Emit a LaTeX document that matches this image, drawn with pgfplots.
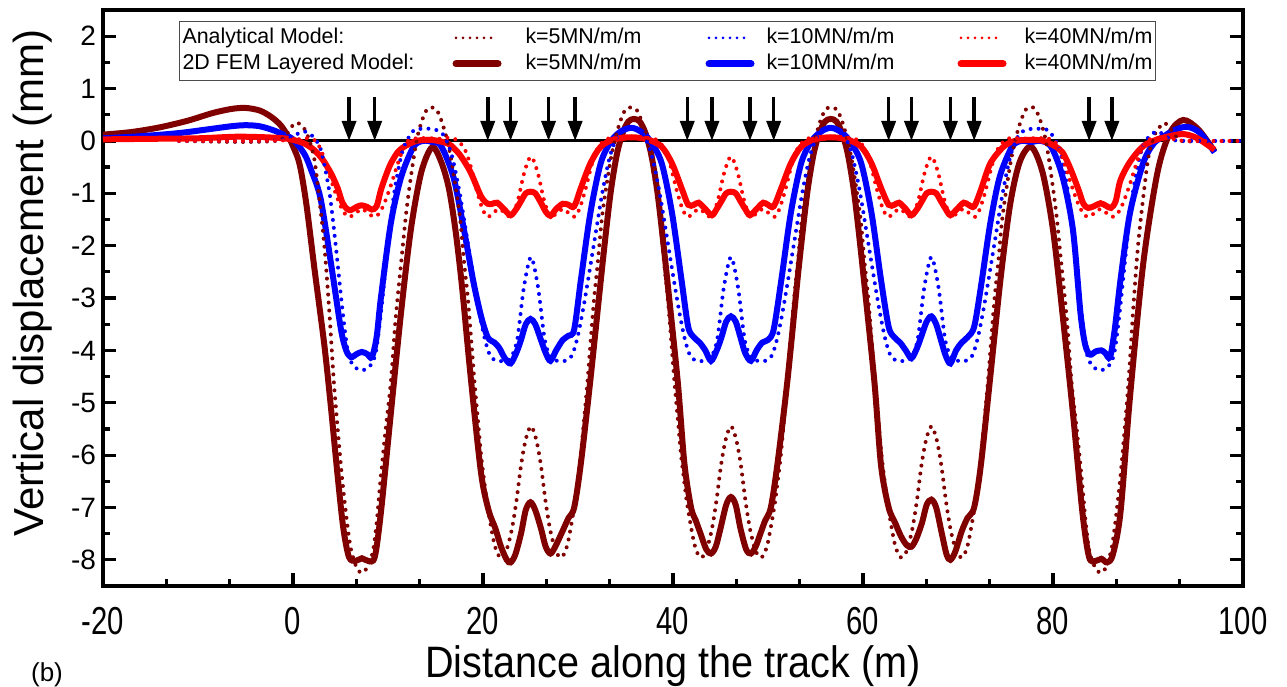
\documentclass[border=0pt]{standalone}
\usepackage{fontspec}
\setmainfont{Liberation Sans}
\newfontfamily\narrowfont[FakeStretch=0.75]{Liberation Sans}
\newfontfamily\xlabfont[FakeStretch=0.9]{Liberation Sans}
\usepackage{pgfplots}
\pgfplotsset{compat=1.18}
\usetikzlibrary{arrows.meta}
\definecolor{dred}{RGB}{128,0,0}
\tikzset{
  femline/.style={line width=3pt},
  anline/.style={line width=2pt, line cap=round, dash pattern=on 0pt off 4pt},
}
\begin{document}
\begin{tikzpicture}
\begin{axis}[
  name=ax,
  scale only axis,
  width=570pt, height=288pt,
  xmin=-20, xmax=100, ymin=-8.5, ymax=2.5,
  xtick={-20,0,...,100}, ytick={-8,-7,...,2},
  minor x tick num=2, minor y tick num=1,
  xtick pos=left, ytick pos=both,
  tick align=inside,
  major tick length=6.5pt, minor tick length=3.5pt,
  tick style={black, line width=1.6pt},
  axis line style={line width=2pt},
  /pgf/number format/assume math mode=true,
  xticklabel style={font=\narrowfont\fontsize{19.5}{20}\selectfont, yshift=-9.5pt, inner sep=1pt},
  yticklabel style={font=\fontsize{14}{16}\selectfont},
  xlabel={Distance along the track (m)},
  ylabel={Vertical displacement (mm)},
  xlabel style={font=\xlabfont\fontsize{22}{24}\selectfont, at={(axis description cs:0.5,-0.139)}, anchor=center, inner sep=0pt},
  ylabel style={font=\fontsize{21}{24}\selectfont, at={(axis description cs:-0.0614,0.526)}, anchor=center},
  legend columns=4,
  legend cell align=left,
  legend image code/.code={\draw[#1] (0pt,0pt) -- (21pt,0pt);},
  legend style={at={(axis description cs:0.0667,0.981)}, anchor=north west,
    draw=black!70, line width=0.5pt, inner xsep=1.5pt, inner ysep=3pt,
    font=\fontsize{10.7}{13}\selectfont, column sep=0pt, row sep=2.5pt,
    nodes={inner sep=0pt, text height=8pt, text depth=2.5pt}},
]
\addlegendimage{empty legend}\addlegendentry{\makebox[135pt][l]{Analytical Model:}}
\addlegendimage{dred, line width=1.5pt, line cap=round, dash pattern=on 0pt off 3.5pt}\addlegendentry{\makebox[102pt][l]{\hspace{12pt}k=5MN/m/m}}
\addlegendimage{blue, line width=1.5pt, line cap=round, dash pattern=on 0pt off 3.5pt}\addlegendentry{\makebox[101.5pt][l]{\hspace{6pt}k=10MN/m/m}}
\addlegendimage{red, line width=1.5pt, line cap=round, dash pattern=on 0pt off 3.5pt}\addlegendentry{\hspace{9pt}k=40MN/m/m}
\addlegendimage{empty legend}\addlegendentry{\makebox[135pt][l]{2D FEM Layered Model:}}
\addlegendimage{dred, line width=3.5pt, line cap=round}\addlegendentry{\makebox[102pt][l]{\hspace{12pt}k=5MN/m/m}}
\addlegendimage{blue, line width=3.5pt, line cap=round}\addlegendentry{\makebox[101.5pt][l]{\hspace{6pt}k=10MN/m/m}}
\addlegendimage{red, line width=3.5pt, line cap=round}\addlegendentry{\hspace{9pt}k=40MN/m/m}

% zero line
\addplot[forget plot, black, line width=1.5pt] coordinates {(0,0) (92,0)};

% FEM k=5
\addplot[forget plot, dred, femline, smooth] coordinates {
(-20,0.12) (-17,0.17) (-14,0.26) (-11,0.39) (-8.5,0.53) (-6.5,0.61) (-5,0.63) (-3.5,0.58) (-2.3,0.46) (-1.3,0.3) (-0.5,0.08)
(0,-0.1) (0.7,-0.45) (1.4,-1.2) (2.3,-2.5) (3.3,-3.9) (4.0,-5.1) (4.7,-6.4) (5.3,-7.4) (5.9,-7.95) (6.6,-8.02) (7.25,-7.97) (7.9,-8.02) (8.6,-7.95)
(9.25,-7.1) (10.3,-5.2) (11.36,-3.3) (12.4,-1.7) (13.5,-0.6) (14.65,-0.12)
(15.6,-0.4) (16.4,-0.9) (17.1,-1.7) (17.8,-2.8) (18.7,-4.5) (19.8,-6.35) (20.6,-7.06) (21.3,-7.4) (21.9,-7.75) (22.5,-8.0) (22.9,-8.05)
(23.4,-7.9) (24.0,-7.5) (24.5,-7.05) (25.0,-6.9) (25.5,-7.05) (26.1,-7.4) (26.6,-7.75) (27.1,-7.88) (27.6,-7.75) (28.4,-7.44) (29.0,-7.2) (29.6,-7.0)
(30.3,-6.16) (31.3,-4.57) (32.4,-2.66) (33.0,-1.65) (33.5,-0.9) (34.1,-0.25) (34.7,0.15) (35.3,0.37) (35.9,0.42) (36.5,0.37) (37.1,0.15) (37.7,-0.25)
(38.3,-0.9) (38.8,-1.65) (39.4,-2.66) (40.5,-4.6) (41.2,-6.16) (41.9,-7.0) (42.4,-7.25) (42.9,-7.5) (43.5,-7.8) (44.0,-7.88) (44.5,-7.75) (45.0,-7.4)
(45.6,-6.95) (46.1,-6.8) (46.6,-6.95) (47.1,-7.4) (47.7,-7.8) (48.2,-7.88) (48.7,-7.75) (49.2,-7.5) (49.7,-7.25) (50.3,-7.0) (51.0,-6.16) (52.05,-4.57)
(53.1,-2.66) (53.7,-1.65) (54.2,-0.9) (54.8,-0.25) (55.4,0.15) (56.0,0.37) (56.6,0.42) (57.2,0.37) (57.8,0.15) (58.4,-0.25) (59.0,-0.9) (59.5,-1.65)
(60.1,-2.66) (61.2,-4.6) (61.9,-6.2) (62.7,-7.0) (63.4,-7.3) (64.0,-7.55) (64.6,-7.72) (65.1,-7.75) (65.6,-7.6) (66.2,-7.3) (66.7,-6.95) (67.2,-6.85)
(67.7,-7.0) (68.3,-7.5) (68.8,-7.9) (69.2,-8.0) (69.7,-7.85) (70.4,-7.45) (71.0,-7.2) (71.7,-7.0) (72.4,-6.2) (73.4,-4.5) (74.5,-2.6) (75.5,-1.2)
(76.5,-0.4) (77.7,-0.11) (78.9,-0.6) (80.0,-1.7) (81.0,-3.3) (82.1,-5.2) (83.1,-7.1) (83.8,-7.95) (84.5,-8.02) (85.1,-7.98) (85.7,-8.05) (86.3,-7.9)
(87.1,-7.1) (88.1,-4.9) (89.5,-2.34) (91.0,-0.6) (92.3,0.15) (93.7,0.4) (95.3,0.22) (97,-0.2)
};

% FEM k=10
\addplot[forget plot, blue, femline, smooth] coordinates {
(-20,0.05) (-16,0.09) (-12,0.15) (-9,0.22) (-6.5,0.28) (-5,0.3) (-3.5,0.28) (-2,0.2) (-1,0.12) (0,0.03) (1.2,-0.25) (1.9,-0.55) (2.9,-1.1)
(4.0,-2.34) (5.05,-3.6) (5.6,-4.0) (6.1,-4.13) (6.7,-4.07) (7.25,-4.03) (7.8,-4.07) (8.3,-4.13) (8.8,-3.75) (9.25,-3.0) (10.3,-1.57) (11.4,-0.68)
(12.7,-0.11) (13.7,0.0) (14.65,-0.02) (15.6,-0.1) (16.9,-0.7) (18.0,-1.7) (19.0,-2.7) (19.8,-3.35) (20.5,-3.75) (21.2,-3.85) (21.7,-3.95) (22.3,-4.15)
(22.9,-4.25) (23.5,-4.05) (24.0,-3.8) (24.5,-3.5) (25.0,-3.4) (25.5,-3.5) (26.1,-3.8) (26.6,-4.05) (27.1,-4.2) (27.7,-4.0) (28.4,-3.8) (29.0,-3.72)
(29.6,-3.6) (30.3,-2.66) (31.3,-1.38) (32.4,-0.42) (33.5,0.0) (34.5,0.18) (35.6,0.25) (36.6,0.18) (37.6,0.0) (38.8,-0.42) (39.9,-1.38) (40.9,-2.66)
(41.6,-3.55) (42.2,-3.75) (42.8,-3.85) (43.4,-4.0) (44.0,-4.2) (44.6,-4.0) (45.1,-3.75) (45.6,-3.45) (46.1,-3.35) (46.6,-3.45) (47.1,-3.75) (47.6,-4.05)
(48.2,-4.2) (48.8,-4.0) (49.4,-3.85) (50.0,-3.8) (50.6,-3.6) (51.4,-2.66) (52.4,-1.38) (53.5,-0.42) (54.6,0.0) (55.6,0.18) (56.6,0.25) (57.6,0.18)
(58.6,0.0) (59.8,-0.42) (60.9,-1.38) (61.9,-2.66) (62.7,-3.55) (63.3,-3.75) (63.9,-3.85) (64.5,-4.0) (65.1,-4.15) (65.7,-3.95) (66.2,-3.7) (66.7,-3.45)
(67.2,-3.35) (67.7,-3.5) (68.2,-3.8) (68.7,-4.1) (69.2,-4.25) (69.8,-4.0) (70.4,-3.85) (71.0,-3.75) (71.7,-3.55) (72.4,-2.8) (73.4,-1.57) (74.4,-0.68)
(75.7,-0.11) (76.7,0.0) (77.7,-0.02) (78.7,0.0) (79.8,-0.11) (81.0,-0.68) (82.1,-1.7) (82.9,-3.3) (83.4,-3.9) (83.9,-4.08) (84.5,-4.02) (85.1,-4.0)
(85.5,-4.05) (86.0,-4.13) (86.5,-3.6) (87.1,-2.66) (88.1,-1.38) (89.5,-0.42) (90.6,-0.05) (91.6,0.08) (92.7,0.2) (94.1,0.27) (95.5,0.15) (97,-0.22)
};

% FEM k=40
\addplot[forget plot, red, femline, smooth] coordinates {
(-20,0.03) (-15,0.04) (-10,0.05) (-6,0.08) (-3,0.07) (-1,0.05) (0,0.02) (1.2,-0.05) (2.2,-0.17) (3.1,-0.35) (4.0,-0.62) (4.7,-0.9) (5.2,-1.18)
(5.7,-1.3) (6.1,-1.32) (6.7,-1.26) (7.2,-1.23) (7.8,-1.26) (8.3,-1.31) (8.8,-1.25) (9.25,-0.94) (9.8,-0.65) (10.3,-0.43) (11.0,-0.22) (11.7,-0.11)
(13,0.0) (14.6,0.02) (16.3,-0.05) (17.0,-0.15) (17.7,-0.3) (18.7,-0.6) (19.8,-1.06) (20.5,-1.2) (21.0,-1.2) (21.5,-1.18) (22.2,-1.3) (22.9,-1.42)
(23.5,-1.3) (24.0,-1.15) (24.5,-1.0) (25.0,-0.97) (25.5,-1.0) (26.1,-1.18) (26.6,-1.35) (27.1,-1.43) (27.7,-1.3) (28.4,-1.2) (29.0,-1.22) (29.6,-1.25)
(30.3,-0.9) (31.3,-0.43) (32.4,-0.11) (33.8,0.03) (35.6,0.07) (37.3,0.03) (38.8,-0.11) (39.9,-0.43) (40.9,-0.9) (41.6,-1.22) (42.2,-1.22) (42.7,-1.18)
(43.4,-1.3) (44.1,-1.42) (44.6,-1.3) (45.1,-1.15) (45.6,-1.0) (46.1,-0.97) (46.6,-1.0) (47.1,-1.15) (47.6,-1.3) (48.1,-1.42) (48.8,-1.3) (49.5,-1.18)
(50.0,-1.22) (50.6,-1.25) (51.4,-0.9) (52.4,-0.43) (53.5,-0.11) (54.9,0.03) (56.6,0.07) (58.3,0.03) (59.8,-0.11) (60.9,-0.43) (61.9,-0.9) (62.7,-1.22)
(63.3,-1.22) (63.8,-1.18) (64.5,-1.3) (65.1,-1.42) (65.7,-1.3) (66.2,-1.15) (66.7,-1.0) (67.2,-0.97) (67.7,-1.0) (68.2,-1.15) (68.7,-1.3) (69.2,-1.42)
(69.9,-1.3) (70.6,-1.18) (71.1,-1.22) (71.7,-1.25) (72.4,-0.94) (73.4,-0.43) (74.8,-0.11) (76.0,0.0) (77.7,0.02) (79.0,0.0) (80.3,-0.11) (81.0,-0.22)
(81.6,-0.43) (82.1,-0.65) (82.7,-0.94) (83.2,-1.2) (83.7,-1.28) (84.4,-1.24) (85.0,-1.19) (85.6,-1.24) (86.1,-1.28) (86.6,-1.15) (87.1,-0.75) (88.1,-0.4)
(89.5,-0.1) (91.0,0.03) (92.5,0.1) (93.8,0.13) (95.2,0.05) (97,-0.17)
};

% Analytical k=5
\addplot[forget plot, dred, anline, smooth] coordinates {
(-12,0) (-6,-0.02) (-2.5,-0.01) (-1.2,0.03) (-0.6,0.15) (0.2,0.34) (0.9,0.3) (1.5,0.12) (2.2,-0.3) (2.7,-1.0) (3.3,-2.0) (3.8,-3.2) (4.3,-4.6)
(4.8,-5.7) (5.2,-6.5) (5.7,-7.3) (6.1,-7.8) (6.7,-8.15) (7.25,-8.25) (7.8,-8.15) (8.4,-7.85) (8.8,-7.3) (9.2,-6.5) (9.7,-5.6) (10.3,-4.6) (10.8,-3.4)
(11.4,-2.3) (11.9,-1.4) (12.4,-0.7) (13.0,0.0) (13.6,0.4) (14.1,0.6) (14.55,0.64)
(15.1,0.6) (15.6,0.4) (16.1,0.1) (16.6,-0.3) (17.1,-0.85) (17.6,-1.5) (18.0,-2.3) (18.4,-3.0) (18.8,-3.9) (19.1,-4.6) (19.5,-5.4) (19.8,-6.0)
(20.2,-6.6) (20.5,-7.0) (21.2,-7.7) (21.8,-7.95) (22.4,-7.85) (23.0,-7.45) (23.5,-6.9) (24.0,-6.2) (24.5,-5.7) (25.05,-5.45) (25.6,-5.7) (26.1,-6.2)
(26.6,-6.9) (27.1,-7.45) (27.7,-7.85) (28.3,-7.95) (28.9,-7.7) (29.6,-7.0) (29.9,-6.6) (30.3,-6.0) (30.6,-5.4) (31.0,-4.6) (31.3,-3.9) (31.7,-3.0)
(32.1,-2.3) (32.5,-1.5) (33.0,-0.85) (33.5,-0.3) (34.0,0.1) (34.5,0.4) (35.0,0.6) (35.55,0.64)
(36.15,0.6) (36.65,0.4) (37.15,0.1) (37.65,-0.3) (38.15,-0.85) (38.65,-1.5) (39.05,-2.3) (39.45,-3.0) (39.85,-3.9) (40.15,-4.6) (40.55,-5.4) (40.85,-6.0)
(41.25,-6.6) (41.55,-7.0) (42.25,-7.7) (42.85,-7.95) (43.45,-7.85) (44.05,-7.45) (44.55,-6.9) (45.05,-6.2) (45.55,-5.7) (46.1,-5.45) (46.65,-5.7) (47.15,-6.2)
(47.65,-6.9) (48.15,-7.45) (48.75,-7.85) (49.35,-7.95) (49.95,-7.7) (50.65,-7.0) (50.95,-6.6) (51.35,-6.0) (51.65,-5.4) (52.05,-4.6) (52.35,-3.9) (52.75,-3.0)
(53.15,-2.3) (53.55,-1.5) (54.05,-0.85) (54.55,-0.3) (55.05,0.1) (55.55,0.4) (56.05,0.6) (56.6,0.64)
(57.25,0.6) (57.75,0.4) (58.25,0.1) (58.75,-0.3) (59.25,-0.85) (59.75,-1.5) (60.15,-2.3) (60.55,-3.0) (60.95,-3.9) (61.25,-4.6) (61.65,-5.4) (61.95,-6.0)
(62.35,-6.6) (62.65,-7.0) (63.35,-7.7) (63.95,-7.95) (64.55,-7.85) (65.15,-7.45) (65.65,-6.9) (66.15,-6.2) (66.65,-5.7) (67.2,-5.45) (67.75,-5.7) (68.25,-6.2)
(68.75,-6.9) (69.25,-7.45) (69.85,-7.85) (70.45,-7.95) (71.05,-7.7) (71.75,-7.0) (72.05,-6.6) (72.45,-6.0) (72.75,-5.4) (73.15,-4.6) (73.45,-3.9) (73.85,-3.0)
(74.25,-2.3) (74.65,-1.5) (75.15,-0.85) (75.65,-0.3) (76.15,0.1) (76.65,0.4) (77.15,0.6) (77.7,0.65)
(78.15,0.6) (78.65,0.4) (79.25,0.0) (79.85,-0.7) (80.35,-1.4) (80.85,-2.3) (81.45,-3.4) (81.95,-4.6) (82.55,-5.6) (83.05,-6.5) (83.45,-7.3) (83.85,-7.85)
(84.45,-8.15) (85.0,-8.25) (85.55,-8.15) (86.15,-7.8) (86.55,-7.3) (87.05,-6.5) (87.45,-5.7) (87.95,-4.6) (88.45,-3.2) (88.95,-2.0) (89.55,-1.0) (90.05,-0.3)
(90.7,0.12) (91.4,0.3) (91.8,0.34) (92.5,0.2) (93.2,0.03) (94,-0.01) (96,0) (100,0)
};

% Analytical k=10
\addplot[forget plot, blue, anline, smooth] coordinates {
(-12,0) (-5,0) (-1.5,0.01) (-0.5,0.05) (0.3,0.12) (1.2,0.18) (2.0,0.1) (2.8,-0.1) (3.3,-0.45) (3.9,-1.06) (4.5,-2.0) (5.25,-3.3) (5.8,-4.05)
(6.4,-4.3) (7.25,-4.38) (8.1,-4.3) (8.7,-4.05) (9.25,-3.3) (10.0,-2.0) (10.6,-1.06) (11.2,-0.45) (11.7,-0.1) (12.7,0.2) (13.6,0.23) (14.55,0.23)
(15.45,0.18) (16.05,0.05) (16.75,-0.3) (17.55,-1.0) (18.45,-2.0) (19.45,-3.1) (20.15,-3.75) (20.75,-4.1) (21.45,-4.2) (22.15,-4.2) (22.9,-4.15) (23.6,-3.8)
(24.3,-2.8) (25.05,-2.22) (25.8,-2.8) (26.5,-3.8) (27.2,-4.15) (27.95,-4.2) (28.65,-4.2) (29.35,-4.1) (29.95,-3.75) (30.65,-3.1) (31.65,-2.0) (32.55,-1.0)
(33.35,-0.3) (34.05,0.05) (34.65,0.18) (35.55,0.23)
(36.6,0.18) (37.1,0.05) (37.8,-0.3) (38.6,-1.0) (39.5,-2.0) (40.5,-3.1) (41.2,-3.75) (41.8,-4.1) (42.5,-4.2) (43.2,-4.2) (43.95,-4.15) (44.65,-3.8)
(45.35,-2.8) (46.1,-2.22) (46.85,-2.8) (47.55,-3.8) (48.25,-4.15) (49.0,-4.2) (49.7,-4.2) (50.4,-4.1) (51.0,-3.75) (51.7,-3.1) (52.7,-2.0) (53.6,-1.0)
(54.4,-0.3) (55.1,0.05) (55.7,0.18) (56.6,0.23)
(57.6,0.18) (58.2,0.05) (58.9,-0.3) (59.7,-1.0) (60.6,-2.0) (61.6,-3.1) (62.3,-3.75) (62.9,-4.1) (63.6,-4.2) (64.3,-4.2) (65.05,-4.15) (65.75,-3.8)
(66.45,-2.8) (67.2,-2.22) (67.95,-2.8) (68.65,-3.8) (69.35,-4.15) (70.1,-4.2) (70.8,-4.2) (71.5,-4.1) (72.1,-3.75) (72.8,-3.1) (73.8,-2.0) (74.7,-1.0)
(75.5,-0.3) (76.2,0.05) (76.8,0.18) (77.7,0.23)
(78.65,0.23) (79.55,0.2) (80.55,-0.1) (81.05,-0.45) (81.65,-1.06) (82.25,-2.0) (83.0,-3.3) (83.55,-4.05) (84.15,-4.3) (85.0,-4.38) (85.85,-4.3) (86.45,-4.05)
(87.0,-3.3) (87.75,-2.0) (88.35,-1.06) (88.95,-0.45) (89.45,-0.1) (90.2,0.1) (91.0,0.18) (91.8,0.1) (92.6,0.02) (94,0) (100,0)
};

% Analytical k=40
\addplot[forget plot, red, anline, smooth] coordinates {
(-12,0) (-4,0) (-1,0.01) (0.5,0.03) (1.5,0.05) (2.4,0.0) (3.0,-0.2) (3.5,-0.45) (4.2,-0.85) (4.9,-1.2) (5.5,-1.4) (6.0,-1.45) (6.6,-1.38) (7.25,-1.3)
(7.9,-1.38) (8.5,-1.45) (9.0,-1.4) (9.6,-1.2) (10.3,-0.85) (11.0,-0.45) (11.5,-0.2) (12.1,0.0) (13.0,0.05) (14.55,0.05)
(15.55,0.04) (16.45,0.06) (17.25,0.02) (18.05,-0.15) (18.65,-0.45) (19.35,-0.95) (19.95,-1.3) (20.45,-1.45) (20.95,-1.4) (21.65,-1.3) (22.35,-1.38) (23.0,-1.45)
(23.65,-1.15) (24.35,-0.6) (25.05,-0.3) (25.75,-0.6) (26.45,-1.15) (27.1,-1.45) (27.75,-1.38) (28.45,-1.3) (29.15,-1.4) (29.65,-1.45) (30.15,-1.3) (30.75,-0.95)
(31.45,-0.45) (32.05,-0.15) (32.85,0.02) (33.65,0.06) (34.55,0.04) (35.55,0.05)
(36.6,0.04) (37.5,0.06) (38.3,0.02) (39.1,-0.15) (39.7,-0.45) (40.4,-0.95) (41.0,-1.3) (41.5,-1.45) (42.0,-1.4) (42.7,-1.3) (43.4,-1.38) (44.05,-1.45)
(44.7,-1.15) (45.4,-0.6) (46.1,-0.3) (46.8,-0.6) (47.5,-1.15) (48.15,-1.45) (48.8,-1.38) (49.5,-1.3) (50.2,-1.4) (50.7,-1.45) (51.2,-1.3) (51.8,-0.95)
(52.5,-0.45) (53.1,-0.15) (53.9,0.02) (54.7,0.06) (55.6,0.04) (56.6,0.05)
(57.7,0.04) (58.6,0.06) (59.4,0.02) (60.2,-0.15) (60.8,-0.45) (61.5,-0.95) (62.1,-1.3) (62.6,-1.45) (63.1,-1.4) (63.8,-1.3) (64.5,-1.38) (65.15,-1.45)
(65.8,-1.15) (66.5,-0.6) (67.2,-0.3) (67.9,-0.6) (68.6,-1.15) (69.25,-1.45) (69.9,-1.38) (70.6,-1.3) (71.3,-1.4) (71.8,-1.45) (72.3,-1.3) (72.9,-0.95)
(73.6,-0.45) (74.2,-0.15) (75.0,0.02) (75.8,0.06) (76.7,0.04) (77.7,0.05)
(79.25,0.05) (80.15,0.0) (80.75,-0.2) (81.25,-0.45) (81.95,-0.85) (82.65,-1.2) (83.25,-1.4) (83.75,-1.45) (84.35,-1.38) (85.0,-1.3) (85.65,-1.38) (86.25,-1.45)
(86.75,-1.4) (87.35,-1.2) (88.05,-0.85) (88.75,-0.45) (89.25,-0.2) (89.85,0.0) (90.75,0.05) (92.35,0.05) (94,0) (100,0)
};

% axle load arrows
\addplot[forget plot, black, line width=1.75pt,
  quiver={u=0, v=-0.84, every arrow/.append style={-{Triangle[length=10pt,width=7pt]}}}]
  coordinates {(5.9,0.84) (8.6,0.84) (20.5,0.84) (22.9,0.84) (26.9,0.84) (29.7,0.84)
  (41.5,0.84) (44.1,0.84) (48.1,0.84) (50.6,0.84) (62.7,0.84) (65.1,0.84) (69.2,0.84) (71.7,0.84)
  (83.8,0.84) (86.2,0.84)};
\end{axis}
\node[font=\fontsize{13}{15}\selectfont] at ([xshift=-28pt,yshift=-44.5pt]ax.south west) {(b)};
\pgfresetboundingbox
\path[use as bounding box] ([xshift=-51.5pt,yshift=-50pt]ax.south west) rectangle ([xshift=22pt,yshift=5pt]ax.north east);
\end{tikzpicture}
\end{document}
